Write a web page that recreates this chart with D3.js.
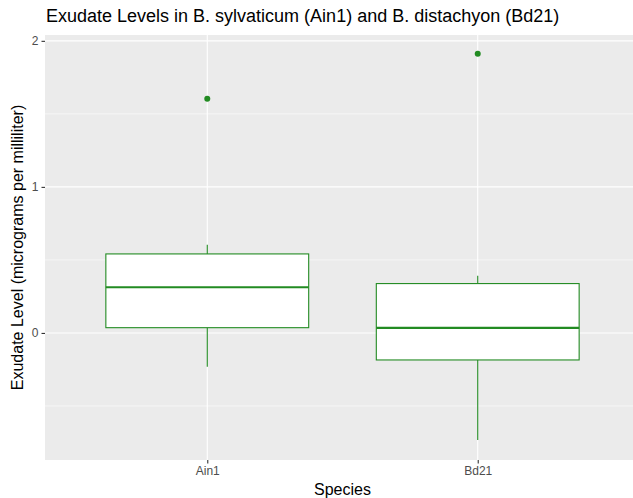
<!DOCTYPE html>
<html>
<head>
<meta charset="utf-8">
<script src="https://cdn.jsdelivr.net/npm/d3@7"></script>
<style>
  html, body { margin: 0; padding: 0; background: #fff; }
  svg { display: block; }
  text { font-family: "Liberation Sans", Arial, Helvetica, sans-serif; }
</style>
</head>
<body>
<svg id="chart" width="633" height="498"></svg>
<script>
// ---- data ----
const categories = ["Ain1", "Bd21"];
const lowerWhisker = [-0.231, -0.733];
const q1 = [0.036, -0.185];
const medians = [0.313, 0.034];
const q3 = [0.541, 0.338];
const upperWhisker = [0.603, 0.392];
const outliers = [[1.603], [1.911]];
const yTicks = [0, 1, 2];
const yMinor = [-0.5, 0.5, 1.5];

const title = "Exudate Levels in B. sylvaticum (Ain1) and B. distachyon (Bd21)";
const xTitle = "Species";
const yTitle = "Exudate Level (micrograms per milliliter)";

// ---- layout ----
const W = 633, H = 498;
const panel = { left: 45, top: 35, right: 640, bottom: 460 };
const green = "#228B22";

const svg = d3.select("#chart");

const n = categories.length;
const x = d3.scaleLinear()
  .domain([1 - 0.6, n + 0.6])
  .range([panel.left, panel.right]);
const y = d3.scaleLinear()
  .domain([-0.87, 2.04])
  .range([panel.bottom, panel.top]);

// panel background
svg.append("rect")
  .attr("x", panel.left).attr("y", panel.top)
  .attr("width", panel.right - panel.left)
  .attr("height", panel.bottom - panel.top)
  .attr("fill", "#EBEBEB");

const grid = svg.append("g");
grid.selectAll("line.minor").data(yMinor).enter().append("line")
  .attr("x1", panel.left).attr("x2", panel.right)
  .attr("y1", d => y(d)).attr("y2", d => y(d))
  .attr("stroke", "#fff").attr("stroke-width", 0.55);
grid.selectAll("line.major").data(yTicks).enter().append("line")
  .attr("x1", panel.left).attr("x2", panel.right)
  .attr("y1", d => y(d)).attr("y2", d => y(d))
  .attr("stroke", "#fff").attr("stroke-width", 1.1);
grid.selectAll("line.vmajor").data(categories).enter().append("line")
  .attr("x1", (d, i) => x(i + 1)).attr("x2", (d, i) => x(i + 1))
  .attr("y1", panel.top).attr("y2", panel.bottom)
  .attr("stroke", "#fff").attr("stroke-width", 1.1);

// boxes
const boxW = x(1.375) - x(0.625);
const boxes = svg.append("g");
categories.forEach((c, i) => {
  const cx = x(i + 1);
  const g = boxes.append("g");
  g.append("line")
    .attr("x1", cx).attr("x2", cx)
    .attr("y1", y(upperWhisker[i])).attr("y2", y(q3[i]))
    .attr("stroke", green).attr("stroke-width", 1.1);
  g.append("line")
    .attr("x1", cx).attr("x2", cx)
    .attr("y1", y(q1[i])).attr("y2", y(lowerWhisker[i]))
    .attr("stroke", green).attr("stroke-width", 1.1);
  g.append("rect")
    .attr("x", cx - boxW / 2).attr("y", y(q3[i]))
    .attr("width", boxW).attr("height", y(q1[i]) - y(q3[i]))
    .attr("fill", "#fff").attr("stroke", green).attr("stroke-width", 1.1);
  g.append("line")
    .attr("x1", cx - boxW / 2).attr("x2", cx + boxW / 2)
    .attr("y1", y(medians[i])).attr("y2", y(medians[i]))
    .attr("stroke", green).attr("stroke-width", 2.2);
  g.selectAll("circle").data(outliers[i]).enter().append("circle")
    .attr("cx", cx).attr("cy", d => y(d)).attr("r", 3)
    .attr("fill", green);
});

// y axis
const yAxis = d3.axisLeft(y).tickValues(yTicks).tickSize(3.5).tickPadding(3).tickFormat(d3.format("d"));
const ya = svg.append("g").attr("transform", `translate(${panel.left},0)`).call(yAxis);
ya.select(".domain").remove();
ya.selectAll(".tick line").attr("stroke", "#333").attr("stroke-width", 1.1);
ya.selectAll(".tick text").attr("fill", "#4D4D4D").style("font-size", "12px")
  .style("font-family", "'Liberation Sans', Arial, sans-serif");

// x axis
const xAxis = d3.axisBottom(x).tickValues(categories.map((c, i) => i + 1))
  .tickFormat((d) => categories[d - 1]).tickSize(3.5).tickPadding(3);
const xa = svg.append("g").attr("transform", `translate(0,${panel.bottom})`).call(xAxis);
xa.select(".domain").remove();
xa.selectAll(".tick line").attr("stroke", "#333").attr("stroke-width", 1.1);
xa.selectAll(".tick text").attr("fill", "#4D4D4D").style("font-size", "12px")
  .style("font-family", "'Liberation Sans', Arial, sans-serif");

// titles
svg.append("text")
  .attr("x", 46).attr("y", 22)
  .attr("fill", "#000").style("font-size", "18px")
  .text(title);

svg.append("text")
  .attr("x", (panel.left + panel.right) / 2).attr("y", 495)
  .attr("text-anchor", "middle")
  .attr("fill", "#000").style("font-size", "16px")
  .text(xTitle);

svg.append("text")
  .attr("transform", `translate(23,${(panel.top + panel.bottom) / 2}) rotate(-90)`)
  .attr("text-anchor", "middle")
  .attr("fill", "#000").style("font-size", "16px")
  .text(yTitle);
</script>
</body>
</html>
